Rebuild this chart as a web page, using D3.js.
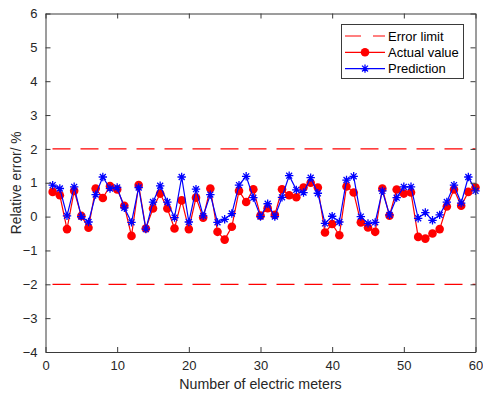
<!DOCTYPE html>
<html>
<head>
<meta charset="utf-8">
<script src="https://cdn.jsdelivr.net/npm/d3@7"></script>
<style>
  html, body { margin: 0; padding: 0; background: #fff; }
  svg { display: block; font-family: "Liberation Sans", Arial, sans-serif; }
</style>
</head>
<body>
<svg id="chart" width="483" height="397"></svg>
<script>
// Meter index 1..60
const meters = d3.range(1, 61);

// Measured relative error (%) per meter
const actualValues = [
  0.73, 0.63, -0.37, 0.76, 0.02, -0.33, 0.83, 0.55, 0.90, 0.80,
  0.32, -0.57, 0.93, -0.35, 0.24, 0.68, 0.24, -0.35, 0.48, -0.37,
  0.56, -0.03, 0.83, -0.45, -0.68, -0.30, 0.76, 0.43, 0.81, 0.03,
  0.25, 0.05, 0.81, 0.63, 0.57, 0.86, 1.00, 0.86, -0.47, -0.22,
  -0.55, 0.89, 0.71, -0.17, -0.32, -0.45, 0.83, 0.03, 0.80, 0.68,
  0.71, -0.60, -0.65, -0.50, -0.37, 0.30, 0.80, 0.32, 0.73, 0.86
];

// Predicted relative error (%) per meter
const predictedValues = [
  0.93, 0.83, 0.02, 0.88, 0.00, -0.16, 0.65, 1.17, 0.83, 0.86,
  0.26, -0.17, 0.86, -0.37, 0.43, 0.91, 0.43, -0.03, 1.17, -0.16,
  0.81, 0.02, 0.65, -0.17, -0.08, 0.09, 0.93, 1.19, 0.56, 0.00,
  0.38, 0.00, 0.57, 1.21, 0.79, 0.71, 1.15, 0.69, -0.20, 0.01,
  -0.16, 1.08, 1.19, 0.00, -0.20, -0.17, 0.76, 0.05, 0.56, 0.88,
  0.88, -0.05, 0.12, -0.11, 0.05, 0.43, 0.93, 0.40, 1.17, 0.76
];

// Error limit band (%)
const errorLimits = [2, -2];

const xTicks = [0, 10, 20, 30, 40, 50, 60];
const yTicks = [-4, -3, -2, -1, 0, 1, 2, 3, 4, 5, 6];

const svg = d3.select("#chart");
const plotLeft = 45.5, plotRight = 475.5, plotTop = 13.5, plotBottom = 352;
const axisColor = "#3a3a3a";
const textColor = "#262626";

const x = d3.scaleLinear().domain([0, 60]).range([plotLeft, plotRight]);
const y = d3.scaleLinear().domain([-4, 6]).range([plotBottom, plotTop]);

// Error limit lines
svg.append("g").selectAll("line")
  .data(errorLimits)
  .join("line")
  .attr("x1", x(0)).attr("x2", x(60))
  .attr("y1", d => y(d)).attr("y2", d => y(d))
  .attr("stroke", "#ff0000")
  .attr("stroke-width", 1.2)
  .attr("stroke-dasharray", "18 10")
  .attr("stroke-dashoffset", -7);

const line = d3.line().x((d, i) => x(meters[i])).y(d => y(d));

// Actual values: red line with filled circles
svg.append("path")
  .datum(actualValues)
  .attr("d", line)
  .attr("fill", "none")
  .attr("stroke", "#ff0000")
  .attr("stroke-width", 1.2);
svg.append("g").selectAll("circle")
  .data(actualValues)
  .join("circle")
  .attr("cx", (d, i) => x(meters[i]))
  .attr("cy", d => y(d))
  .attr("r", 4.3)
  .attr("fill", "#ff0000");

// Predictions: blue line with asterisk markers
svg.append("path")
  .datum(predictedValues)
  .attr("d", line)
  .attr("fill", "none")
  .attr("stroke", "#0000ff")
  .attr("stroke-width", 1.2);

const star = (cx, cy, s) => {
  const d = s * 0.7071;
  return `M${cx - s},${cy}L${cx + s},${cy}M${cx},${cy - s}L${cx},${cy + s}` +
         `M${cx - d},${cy - d}L${cx + d},${cy + d}M${cx - d},${cy + d}L${cx + d},${cy - d}`;
};
svg.append("g").selectAll("path")
  .data(predictedValues)
  .join("path")
  .attr("d", (d, i) => star(x(meters[i]), y(d), 4.2))
  .attr("stroke", "#0000ff")
  .attr("stroke-width", 1.3)
  .attr("fill", "none");

// Axes box (ticks inside)
const xAxisB = d3.axisBottom(x).tickValues(xTicks).tickSizeInner(-5).tickSizeOuter(0).tickPadding(9);
const xAxisT = d3.axisTop(x).tickValues(xTicks).tickSizeInner(-5).tickSizeOuter(0).tickFormat("");
const yAxisL = d3.axisLeft(y).tickValues(yTicks).tickSizeInner(-5).tickSizeOuter(0).tickPadding(8);
const yAxisR = d3.axisRight(y).tickValues(yTicks).tickSizeInner(-5).tickSizeOuter(0).tickFormat("");

function style(g) {
  g.select(".domain").attr("stroke", axisColor).attr("stroke-width", 1);
  g.selectAll(".tick line").attr("stroke", axisColor).attr("stroke-width", 1);
  g.selectAll(".tick text").attr("fill", textColor).style("font-size", "13px")
    .style("font-family", "'Liberation Sans', Arial, sans-serif");
}

svg.append("g").attr("transform", `translate(0,${plotBottom})`).call(xAxisB).call(style);
svg.append("g").attr("transform", `translate(0,${plotTop})`).call(xAxisT).call(style);
svg.append("g").attr("transform", `translate(${plotLeft},0)`).call(yAxisL).call(style);
svg.append("g").attr("transform", `translate(${plotRight},0)`).call(yAxisR).call(style);

// Axis titles
svg.append("text")
  .attr("x", (plotLeft + plotRight) / 2).attr("y", 389)
  .attr("text-anchor", "middle")
  .attr("fill", textColor)
  .style("font-size", "14.2px")
  .text("Number of electric meters");

svg.append("text")
  .attr("transform", `translate(21,${(plotTop + plotBottom) / 2}) rotate(-90)`)
  .attr("text-anchor", "middle")
  .attr("fill", textColor)
  .style("font-size", "13.8px")
  .text("Relative error/ %");

// Legend
const legendItems = [
  { label: "Error limit", color: "#ff0000", dash: "16 12", marker: null },
  { label: "Actual value", color: "#ff0000", dash: null, marker: "circle" },
  { label: "Prediction", color: "#0000ff", dash: null, marker: "star" }
];
const lg = svg.append("g");
lg.append("rect")
  .attr("x", 341.5).attr("y", 24.5).attr("width", 122).attr("height", 54)
  .attr("fill", "#fff").attr("stroke", axisColor).attr("stroke-width", 1);
legendItems.forEach((item, i) => {
  const ly = 36 + i * 16.3;
  lg.append("line")
    .attr("x1", 345).attr("x2", 385).attr("y1", ly).attr("y2", ly)
    .attr("stroke", item.color).attr("stroke-width", 1.2)
    .attr("stroke-dasharray", item.dash);
  if (item.marker === "circle") {
    lg.append("circle").attr("cx", 365).attr("cy", ly).attr("r", 4.3).attr("fill", item.color);
  } else if (item.marker === "star") {
    lg.append("path").attr("d", star(365, ly, 4.2)).attr("stroke", item.color)
      .attr("stroke-width", 1.3).attr("fill", "none");
  }
  lg.append("text")
    .attr("x", 388).attr("y", ly).attr("dy", "0.35em")
    .attr("fill", "#000")
    .style("font-size", "13px")
    .text(item.label);
});
</script>
</body>
</html>
